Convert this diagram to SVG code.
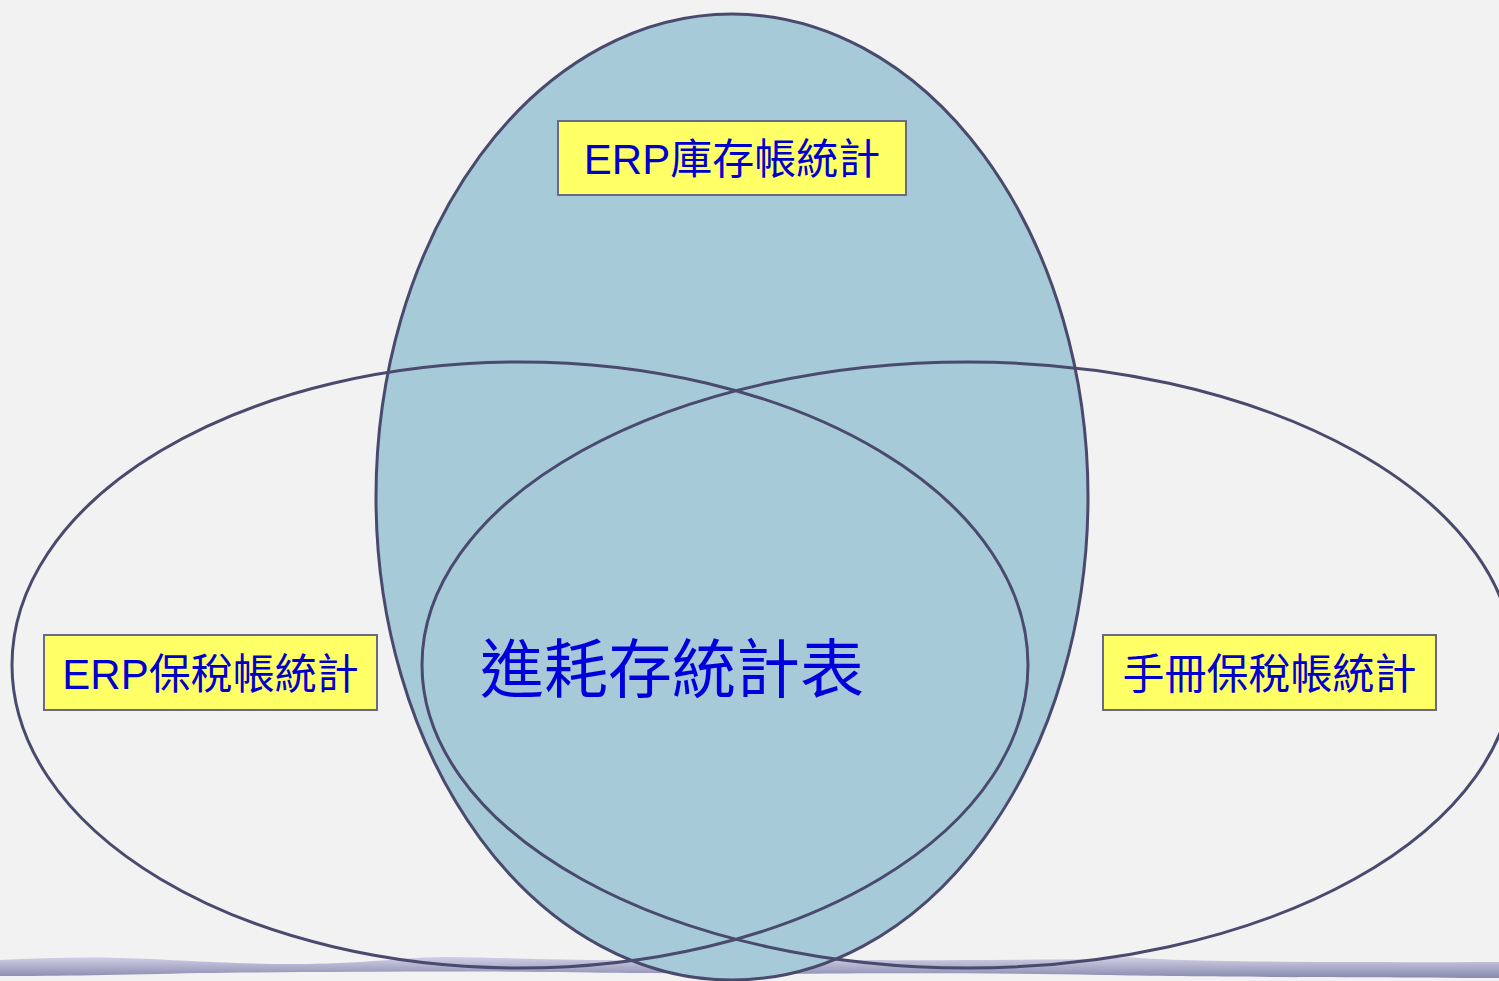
<svg xmlns="http://www.w3.org/2000/svg" width="1499" height="981" viewBox="0 0 1499 981">
<defs>
<linearGradient id="band" x1="0" y1="0" x2="0" y2="1">
<stop offset="0" stop-color="#d0d0e6"/>
<stop offset="1" stop-color="#8888ae"/>
</linearGradient>
<style>
.ring{fill:none;stroke:#4a4a6e;stroke-width:3}
.box{fill:#ffff66;stroke:#6a6a88;stroke-width:2}
.lbl{font-family:"Liberation Sans","Noto Sans CJK TC",sans-serif;font-size:42px;fill:#0000cc}
.big{font-family:"Liberation Sans","Noto Sans CJK TC",sans-serif;font-size:64px;fill:#0000dd}
</style>
</defs>
<rect width="1499" height="981" fill="#f2f2f2"/>
<path d="M0,960 C40,958 80,957 120,958 C170,959 220,964 300,964 C380,963 400,957 450,957 C520,958 580,961 640,960 C700,959 740,958 790,959 C860,961 1000,960 1100,959 L1130,957 C1150,960 1250,963 1499,962 L1499,978 C1300,977 1200,977 1100,975 C1000,973 880,973 780,974 C700,973 650,974 560,972 C460,971 300,972 200,973 C120,975 60,976 0,976 Z" fill="url(#band)"/>
<g id="erp-inventory">
<ellipse cx="732" cy="497" rx="356" ry="483" fill="#a6cad8" stroke="#4a4a6e" stroke-width="3"/>
</g>
<g id="erp-bonded">
<ellipse class="ring" cx="520" cy="665" rx="508" ry="303"/>
</g>
<g id="handbook-bonded">
<ellipse class="ring" cx="968" cy="665" rx="546" ry="303"/>
</g>
<g id="label-inventory">
<rect class="box" x="558" y="121" width="348" height="74"/>
<text class="lbl" x="732" y="174" text-anchor="middle">ERP庫存帳統計</text>
</g>
<g id="label-erp-bonded">
<rect class="box" x="44" y="635" width="333" height="75"/>
<text class="lbl" x="210.5" y="689" text-anchor="middle">ERP保稅帳統計</text>
</g>
<g id="label-handbook">
<rect class="box" x="1103" y="635" width="333" height="75"/>
<text class="lbl" x="1269.5" y="689" text-anchor="middle">手冊保稅帳統計</text>
</g>
<g id="center">
<text class="big" x="672" y="692" text-anchor="middle">進耗存統計表</text>
</g>
</svg>
